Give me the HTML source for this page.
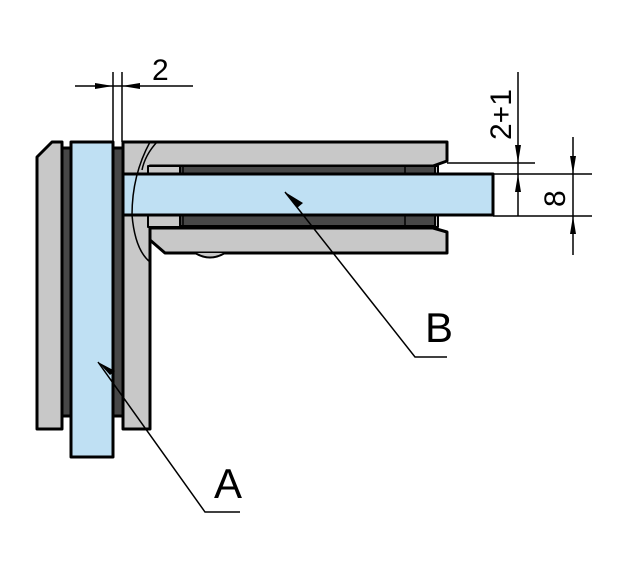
<!DOCTYPE html>
<html><head><style>body{margin:0;background:#fff}svg{display:block}</style></head><body>
<svg width="626" height="569" viewBox="0 0 626 569" xmlns="http://www.w3.org/2000/svg" font-family="Liberation Sans, sans-serif">
<g stroke="#000" stroke-width="3" stroke-linejoin="round">
<!-- vertical assembly -->
<path d="M37 157 L52 142 L62 142 L62 429 L37 429 Z" fill="#c8c8c8"/>
<rect x="62" y="148" width="10" height="268" fill="#474747"/>
<rect x="113" y="148" width="10" height="268" fill="#474747"/>
<path d="M123 142 L447 142 L447 161 L433 166 L150 166 L150 429 L123 429 Z" fill="#c8c8c8"/>
<rect x="148" y="166" width="290" height="9" fill="#c8c8c8" stroke-width="2"/>
<rect x="180" y="166" width="255" height="9" fill="#474747" stroke-width="2"/>
<rect x="148" y="215" width="290" height="12" fill="#c8c8c8" stroke-width="2"/>
<rect x="180" y="215" width="255" height="11" fill="#474747" stroke-width="2"/>
<path d="M150 228 L433 228 L447 232 L447 253 L165 253 L150 240 Z" fill="#c8c8c8"/>
<path d="M195 253 Q210 262 225 253" fill="#c8c8c8" stroke-width="2"/>
<rect x="71" y="142" width="42" height="315" fill="#bfe0f3"/>
<rect x="123" y="174" width="370" height="41" fill="#bfe0f3"/>
</g>
<g stroke="#000" stroke-width="1.5" fill="none">
<path d="M150 142 Q132 175 132 215 Q135 250 150 262"/>
<path d="M157 142 Q145 155 142 170"/>
<line x1="183" y1="166" x2="183" y2="175"/><line x1="183" y1="215" x2="183" y2="226"/>
<line x1="405" y1="166" x2="405" y2="175"/><line x1="405" y1="215" x2="405" y2="226"/>
<!-- dimension 2 -->
<line x1="113" y1="72" x2="113" y2="142"/><line x1="122" y1="72" x2="122" y2="142"/>
<line x1="75" y1="86" x2="193" y2="86"/>
<!-- dimension 2+1 / 8 -->
<line x1="518" y1="72" x2="518" y2="216"/>
<line x1="447" y1="163" x2="535" y2="163"/>
<line x1="493" y1="174" x2="592" y2="174"/>
<line x1="493" y1="216" x2="592" y2="216"/>
<line x1="573" y1="137" x2="573" y2="255"/>
<!-- leaders -->
<polyline points="285,192 415,357 447,357"/>
<polyline points="98,362 205,512 240,512"/>
</g>
<g fill="#000">
<polygon points="113,86 95,83 95,89"/><polygon points="122,86 140,83 140,89"/>
<polygon points="518,163 515,145 521,145"/><polygon points="518,174 515,192 521,192"/>
<polygon points="573,174 570,156 576,156"/><polygon points="573,216 570,234 576,234"/>
<polygon points="285,192 303,203 297,208"/>
<polygon points="98,362 110,375 115,371"/>
</g>
<g font-size="34" fill="#000">
<text x="152" y="80" font-size="30">2</text>
<text x="425" y="342" font-size="42">B</text>
<text x="214" y="498" font-size="42">A</text>
<text transform="translate(511,140) rotate(-90)" font-size="30">2+1</text>
<text transform="translate(565,207) rotate(-90)" font-size="30">8</text>
</g>
</svg>
</body></html>
